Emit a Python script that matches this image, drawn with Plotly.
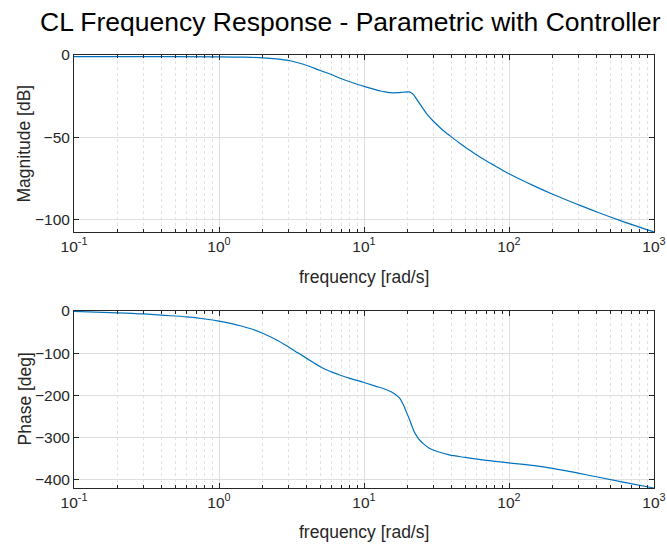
import plotly.graph_objects as go

# Closed-loop frequency response samples (rad/s)
mag_freq = [0.1, 0.3, 1, 1.5, 2, 2.5, 3, 3.5, 4, 5, 6, 7, 8, 10, 12, 13, 14,
            15, 16, 17, 18, 19, 20, 20.5, 21, 21.5, 22, 23, 24, 25, 27, 30,
            35, 38.7, 45, 53, 60, 70, 85, 100, 150, 200, 300, 400, 600, 1000]
mag_db = [-1.0, -1.0, -1.1, -1.3, -1.7, -2.4, -3.3, -4.7, -6.2, -9.4, -12.0,
          -14.4, -16.2, -19.0, -21.0, -21.8, -22.4, -22.8, -22.9, -22.85,
          -22.7, -22.45, -22.3, -22.35, -22.7, -23.3, -24.2, -26.6, -29.0,
          -31.3, -35.5, -40.0, -45.6, -48.6, -53.0, -57.5, -60.6, -64.3,
          -68.5, -72.0, -79.5, -84.4, -90.7, -95.0, -100.7, -107.3]

phase_freq = [0.1, 0.2, 0.3, 0.4, 0.6, 0.8, 1.0, 1.2, 1.4, 1.7, 2.0, 2.5, 3.0,
              3.5, 4.0, 4.5, 5.0, 5.6, 6.2, 6.8, 8, 10, 12, 14, 15.5, 16.5,
              17.6, 18.5, 19.5, 20.6, 21.5, 22.3, 23.2, 24.1, 26, 28.2, 32,
              38.7, 50, 70, 100, 150, 200, 300, 400, 600, 1000]
phase_deg = [-1.0, -4.3, -7.0, -10.0, -14.0, -19.0, -24.0, -29.5, -35.0,
             -43.5, -53.0, -69.0, -85.0, -99.5, -112.0, -123.0, -132.5,
             -141.0, -147.0, -152.0, -160.0, -170.0, -178.5, -186.0, -192.5,
             -198.5, -207.0, -220.0, -238.0, -258.0, -275.0, -288.0, -298.0,
             -306.0, -317.0, -326.0, -334.0, -342.0, -348.0, -355.0, -361.0,
             -367.5, -374.0, -385.5, -394.0, -406.0, -420.7]

decades = [0.1, 1, 10, 100, 1000]
decade_labels = ["10<sup>-1</sup>", "10<sup>0</sup>", "10<sup>1</sup>",
                 "10<sup>2</sup>", "10<sup>3</sup>"]
minor_vals = [m * d for d in decades[:-1] for m in range(2, 10)]

mag_ticks = [-100, -50, 0]
phase_ticks = [-400, -300, -200, -100, 0]

FONT = "Liberation Sans"
AX = "#262626"
LINE = "#0072BD"

W, H = 667, 546
L, R = 74, 13
PW = W - L - R


def px_x(x):
    return (x - L) / PW


def px_y(y):
    return 1 - y / H


def xaxis(anchor):
    return dict(
        type="log", range=[-1, 3], anchor=anchor, automargin=False,
        tickmode="array", tickvals=decades, ticktext=decade_labels,
        ticks="inside", ticklen=5, tickwidth=1, tickcolor=AX,
        showline=True, linecolor=AX, linewidth=1, mirror="ticks",
        showgrid=True, gridcolor="#dedede", gridwidth=1,
        zeroline=False,
        tickfont=dict(family=FONT, size=15.5, color=AX),
        minor=dict(tickmode="array", tickvals=minor_vals, ticks="inside",
                   ticklen=3, tickcolor=AX, showgrid=True,
                   gridcolor="#e2e2e2", griddash="dot", gridwidth=1),
    )


def yaxis(anchor, rng, ticks, domain):
    return dict(
        range=rng, domain=domain, anchor=anchor, automargin=False,
        tickmode="array", tickvals=ticks,
        ticks="inside", ticklen=5, tickwidth=1, tickcolor=AX,
        showline=True, linecolor=AX, linewidth=1, mirror="ticks",
        showgrid=True, gridcolor="#dedede", gridwidth=1,
        zeroline=False,
        tickfont=dict(family=FONT, size=15.5, color=AX),
    )


fig = go.Figure()
fig.add_trace(go.Scatter(x=mag_freq, y=mag_db, mode="lines",
                         line=dict(color=LINE, width=1.2, shape="spline",
                                   smoothing=1.0),
                         xaxis="x", yaxis="y", showlegend=False))
fig.add_trace(go.Scatter(x=phase_freq, y=phase_deg, mode="lines",
                         line=dict(color=LINE, width=1.2, shape="spline",
                                   smoothing=1.0),
                         xaxis="x2", yaxis="y2", showlegend=False))

fig.update_layout(
    width=W, height=H,
    margin=dict(l=L, r=R, t=0, b=0, pad=0, autoexpand=False),
    paper_bgcolor="white", plot_bgcolor="white",
    showlegend=False,
    xaxis=xaxis("y"),
    yaxis=yaxis("x", [-107.3, 0], mag_ticks, [px_y(232), px_y(55)]),
    xaxis2=xaxis("y2"),
    yaxis2=yaxis("x2", [-420.7, 0], phase_ticks, [px_y(488), px_y(311)]),
)

annotations = [
    dict(text="CL Frequency Response - Parametric with Controller",
         x=px_x(350), y=px_y(22), font=dict(family=FONT, size=26.5,
                                            color="#000000")),
    dict(text="Magnitude [dB]", x=px_x(24), y=px_y(143.5), textangle=-90,
         font=dict(family=FONT, size=17.5, color=AX)),
    dict(text="Phase [deg]", x=px_x(24), y=px_y(399.5), textangle=-90,
         font=dict(family=FONT, size=17.5, color=AX)),
    dict(text="frequency [rad/s]", x=px_x(364), y=px_y(277),
         font=dict(family=FONT, size=17.5, color=AX)),
    dict(text="frequency [rad/s]", x=px_x(364), y=px_y(532),
         font=dict(family=FONT, size=17.5, color=AX)),
]
for a in annotations:
    a.update(xref="paper", yref="paper", showarrow=False,
             xanchor="center", yanchor="middle")
fig.update_layout(annotations=annotations)

fig.write_html("out.html")
